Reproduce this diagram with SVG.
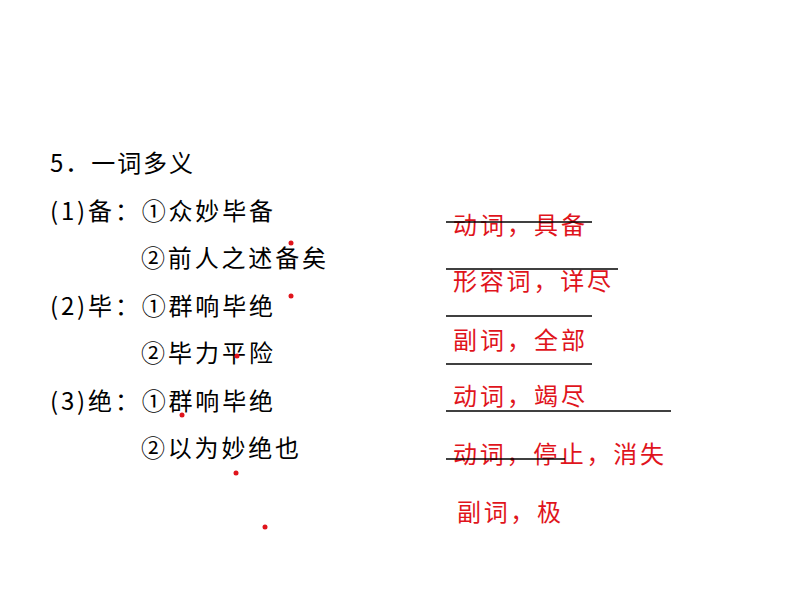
<svg xmlns="http://www.w3.org/2000/svg" width="794" height="596" viewBox="0 0 794 596">
<style>
text{font-family:"Noto Sans CJK SC","Noto Sans",sans-serif;font-size:24px}
.k{fill:#000}.r{fill:#e0141c}
line{stroke:#000;stroke-width:1.3}
circle{fill:#e0141c}
</style>
<rect width="794" height="596" fill="#fff"/>
<g id="left" class="k">
<text x="50" y="172" textLength="143" lengthAdjust="spacing">5．一词多义</text>
<text x="50" y="220" textLength="223" lengthAdjust="spacing">(1)备：①众妙毕备</text>
<text x="141" y="267" textLength="185" lengthAdjust="spacing">②前人之述备矣</text>
<text x="50" y="315" textLength="223" lengthAdjust="spacing">(2)毕：①群响毕绝</text>
<text x="141" y="362" textLength="132" lengthAdjust="spacing">②毕力平险</text>
<text x="50" y="410" textLength="223" lengthAdjust="spacing">(3)绝：①群响毕绝</text>
<text x="141" y="457" textLength="158" lengthAdjust="spacing">②以为妙绝也</text>
</g>
<g id="answers" class="r">
<text x="453" y="234" textLength="132" lengthAdjust="spacing">动词，具备</text>
<text x="453" y="290" textLength="158" lengthAdjust="spacing">形容词，详尽</text>
<text x="453" y="349" textLength="132" lengthAdjust="spacing">副词，全部</text>
<text x="453" y="405" textLength="132" lengthAdjust="spacing">动词，竭尽</text>
<text x="453" y="463" textLength="211" lengthAdjust="spacing">动词，停止，消失</text>
<text x="457" y="521" textLength="104" lengthAdjust="spacing">副词，极</text>
</g>
<g id="lines">
<line x1="446" y1="222" x2="592" y2="222"/>
<line x1="446" y1="269" x2="618" y2="269"/>
<line x1="446" y1="316" x2="592" y2="316"/>
<line x1="446" y1="364" x2="592" y2="364"/>
<line x1="446" y1="411" x2="671" y2="411"/>
<line x1="446" y1="459" x2="565" y2="459"/>
</g>
<g id="dots">
<circle cx="291" cy="243" r="2.5"/>
<circle cx="291" cy="296" r="2.5"/>
<circle cx="237" cy="356" r="2.5"/>
<circle cx="182" cy="415" r="2.5"/>
<circle cx="236" cy="473" r="2.5"/>
<circle cx="265" cy="527" r="2.5"/>
</g>
</svg>
